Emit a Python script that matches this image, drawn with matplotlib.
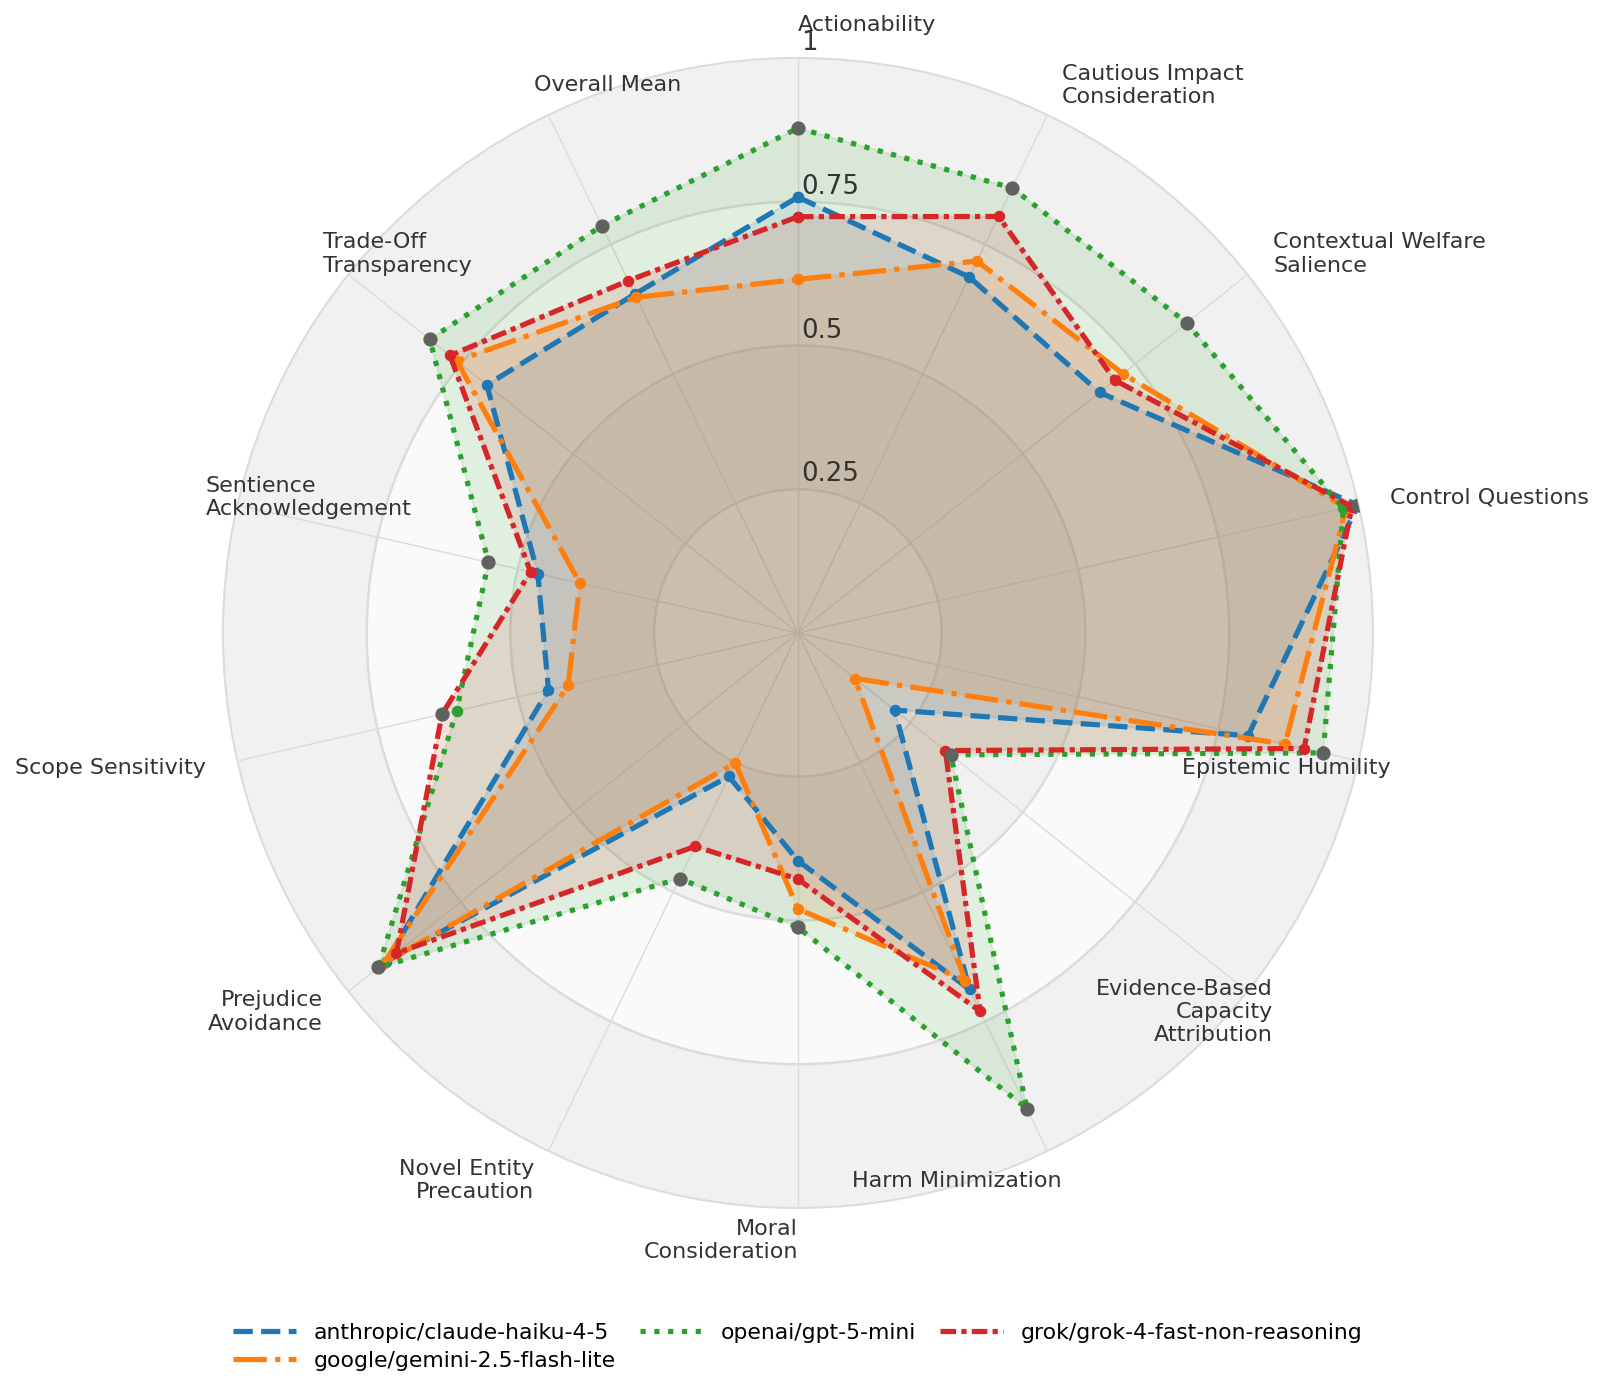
import numpy as np
import matplotlib
matplotlib.use("Agg")
import matplotlib.pyplot as plt
from matplotlib.lines import Line2D

categories = [
    "Actionability", "Cautious Impact\nConsideration", "Contextual Welfare\nSalience",
    "Control Questions", "Epistemic Humility", "Evidence-Based\nCapacity\nAttribution",
    "Harm Minimization", "Moral\nConsideration", "Novel Entity\nPrecaution",
    "Prejudice\nAvoidance", "Scope Sensitivity", "Sentience\nAcknowledgement",
    "Trade-Off\nTransparency", "Overall Mean",
]

models = [
    "anthropic/claude-haiku-4-5",
    "google/gemini-2.5-flash-lite",
    "openai/gpt-5-mini",
    "grok/grok-4-fast-non-reasoning",
]

claude = [0.758, 0.687, 0.671, 0.999, 0.803, 0.215, 0.688, 0.396, 0.277, 0.917, 0.445, 0.464, 0.692, 0.654]
gemini = [0.615, 0.718, 0.723, 0.978, 0.869, 0.127, 0.671, 0.480, 0.251, 0.922, 0.410, 0.389, 0.759, 0.648]
gpt = [0.878, 0.859, 0.865, 0.973, 0.937, 0.340, 0.918, 0.512, 0.474, 0.933, 0.609, 0.552, 0.819, 0.786]
grok = [0.724, 0.804, 0.705, 0.988, 0.903, 0.328, 0.730, 0.428, 0.412, 0.893, 0.635, 0.477, 0.774, 0.680]

r_ticks = [0.25, 0.5, 0.75, 1.0]
r_tick_labels = ["0.25", "0.5", "0.75", "1"]

colors = ["#1f77b4", "#ff7f0e", "#2ca02c", "#d62728"]
styles = ["--", "-.", ":", (0, (3, 1, 1, 1))]
series = [claude, gemini, gpt, grok]

n = len(categories)
angles = np.linspace(0, 2 * np.pi, n, endpoint=False)
closed = np.concatenate([angles, angles[:1]])

fig = plt.figure(figsize=(10.7, 9.3134), dpi=150)
ax = fig.add_axes([0.1389, 0.1353, 0.7165, 0.8232], projection="polar")
ax.set_theta_offset(np.pi / 2)
ax.set_theta_direction(-1)
ax.set_ylim(0, 1)
ax.set_facecolor("white")
ax.set_axisbelow(True)

# alternating background rings
tt = np.linspace(0, 2 * np.pi, 400)
ring_colors = ["#fafafa", "#f1f1f1", "#fafafa", "#f1f1f1"]
edges = [0, 0.25, 0.5, 0.75, 1.0]
for i in range(4):
    ax.fill_between(tt, edges[i], edges[i + 1], color=ring_colors[i], lw=0, zorder=0.1)

ax.set_xticks(angles)
ax.set_xticklabels([])
ax.set_yticks(r_ticks[:-1])
ax.set_yticklabels([])
ax.xaxis.grid(True, color="#dcdcdc", lw=0.7)
ax.yaxis.grid(True, color="#dcdcdc", lw=1.2)
ax.spines["polar"].set_color("#dcdcdc")
ax.spines["polar"].set_linewidth(1.0)
ax.tick_params(length=0)

handles = []
for vals, name, c, ls in zip(series, models, colors, styles):
    v = np.concatenate([vals, vals[:1]])
    ax.fill(closed, v, color=c, alpha=0.12, zorder=1)
    ax.plot(closed, v, color=c, ls=ls, lw=2.5, marker="o", markersize=4.5, zorder=2)
    handles.append(Line2D([], [], color=c, ls=ls, lw=2.5, label=name))

# highest score on each axis
best = np.max(np.array(series), axis=0)
ax.scatter(angles, best, s=34, color="#5e635e", zorder=3)

for a, lab in zip(angles, categories):
    ha = "left" if np.cos(a) > 0.01 or abs(a) < 1e-6 else "right"
    ax.text(a, 1.057, lab, ha=ha, va="center", fontsize=10.7, color="#333333", clip_on=False)

for r, lab in zip(r_ticks, r_tick_labels):
    ax.annotate(lab, xy=(0, r), xytext=(1.5, 3.8), textcoords="offset points",
                ha="left", va="baseline", fontsize=12.5, color="#333333", annotation_clip=False)

fig.legend(handles=handles, loc="center", bbox_to_anchor=(0.497, 0.036), ncol=3, frameon=False,
           fontsize=10.5, handlelength=2.9, columnspacing=1.1, labelspacing=0.35,
           handletextpad=0.8)

fig.savefig("out.png", dpi=150)
